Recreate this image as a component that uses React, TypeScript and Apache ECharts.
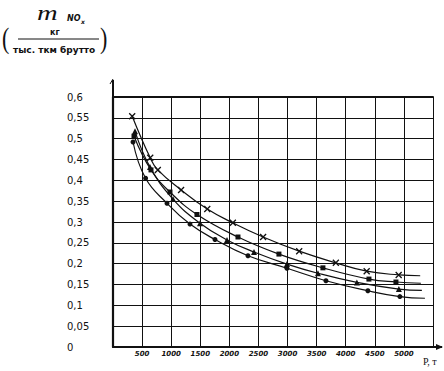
import React, { useEffect, useRef } from "react";
import * as echarts from "echarts";

const yTicks = ["0", "0,05", "0,1", "0,15", "0,2", "0,25", "0,3", "0,35", "0,4", "0,45", "0,5", "0,55", "0,6"];
const xTicks = ["500", "1000", "1500", "2000", "2500", "3000", "3500", "4000", "4500", "5000"];

// [P, m] points; last point of each = line end (no marker)
const crossSeries: number[][] = [
  [330, 0.554], [640, 0.454], [770, 0.425], [1170, 0.377], [1620, 0.331], [2060, 0.298],
  [2580, 0.264], [3200, 0.23], [3830, 0.202], [4360, 0.182], [4910, 0.173], [5280, 0.171],
];
const squareSeries: number[][] = [
  [361, 0.506], [653, 0.425], [979, 0.372], [1443, 0.318], [2148, 0.264], [2852, 0.223],
  [3608, 0.19], [4399, 0.163], [4863, 0.156], [5292, 0.153],
];
const triangleSeries: number[][] = [
  [378, 0.518], [636, 0.432], [1031, 0.355], [1495, 0.297], [1959, 0.257], [2423, 0.228],
  [2990, 0.199], [3522, 0.177], [4192, 0.155], [4914, 0.139], [5309, 0.136],
];
const circleSeries: number[][] = [
  [344, 0.492], [560, 0.405], [928, 0.345], [1323, 0.295], [1753, 0.258], [2320, 0.219],
  [2990, 0.189], [3660, 0.159], [4381, 0.135], [4931, 0.121], [5361, 0.117],
];

const toData = (pts: number[][]) =>
  pts.map((p, i) => (i === pts.length - 1 ? { value: p, symbol: "none" } : { value: p }));

export default function App() {
  const ref = useRef<HTMLDivElement>(null);
  useEffect(() => {
    if (!ref.current) return;
    const chart = echarts.init(ref.current, null, { renderer: "svg" });
    const mkSeries = (name: string, pts: number[][], symbol: string, size: number) => ({
      name,
      type: "line",
      data: toData(pts),
      smooth: 0.45,
      symbol,
      symbolSize: size,
      showSymbol: true,
      lineStyle: { color: "#111", width: 1.2 },
      itemStyle: { color: "#111", borderColor: "#111", borderWidth: symbol.startsWith("path") ? 1.3 : 0 },
    });
    chart.setOption({
      animation: false,
      backgroundColor: "#fff",
      grid: { left: 113, top: 97, right: 11, bottom: 24 },
      xAxis: [
        {
          type: "value",
          min: 0,
          max: 5500,
          interval: 500,
          axisLine: { show: true, lineStyle: { color: "#111", width: 2.2 } },
          axisTick: { show: false },
          splitLine: { show: true, lineStyle: { color: "#111", width: 1 } },
          axisLabel: {
            margin: 3,
            fontSize: 7,
            fontStyle: "italic",
            fontWeight: "bold",
            fontFamily: "DejaVu Sans",
            color: "#111",
            formatter: (v: number) => {
              const s = String(Math.round(v));
              return xTicks.includes(s) ? s : "";
            },
          },
        },
        {
          type: "value",
          position: "top",
          min: 0,
          max: 5500,
          axisLine: { show: true, lineStyle: { color: "#111", width: 2 } },
          axisTick: { show: false },
          axisLabel: { show: false },
          splitLine: { show: false },
        },
      ],
      yAxis: {
        type: "value",
        min: 0,
        max: 0.6,
        interval: 0.05,
        axisLine: { show: true, lineStyle: { color: "#111", width: 2.2 } },
        axisTick: { show: false },
        splitLine: { show: true, lineStyle: { color: "#111", width: 1 } },
        axisLabel: {
          margin: 46,
          align: "left",
          fontSize: 10,
          fontFamily: "DejaVu Sans",
          color: "#111",
          padding: [0, 0, 8, 0],
          formatter: (v: number) => yTicks[Math.round(v / 0.05)] ?? "",
        },
      },
      series: [
        mkSeries("x", crossSeries, "path://M0,0L10,10M10,0L0,10", 6),
        mkSeries("sq", squareSeries, "rect", 5),
        mkSeries("tri", triangleSeries, "triangle", 6),
        mkSeries("ci", circleSeries, "circle", 5),
      ],
      graphic: [
        { type: "line", shape: { x1: 113, y1: 97, x2: 113, y2: 80 }, style: { stroke: "#111", lineWidth: 2 } },
        { type: "line", shape: { x1: 110, y1: 84, x2: 113, y2: 79 }, style: { stroke: "#111", lineWidth: 1 } },
        { type: "line", shape: { x1: 433, y1: 347, x2: 442, y2: 347 }, style: { stroke: "#111", lineWidth: 2 } },
        { type: "polygon", shape: { points: [[443, 347], [436, 344], [436, 350]] }, style: { fill: "#111" } },
        { type: "text", x: 423, y: 356, style: { text: "Р, т", font: "10px 'Liberation Serif'", fill: "#111" } },
        {
          type: "text",
          x: 37,
          y: 2,
          scaleX: 1.3,
          style: { text: "m", font: "italic 22px 'Liberation Serif'", fill: "#111" },
        },
        { type: "text", x: 67, y: 14, style: { text: "NO", font: "italic bold 8px 'DejaVu Sans'", fill: "#111" } },
        { type: "text", x: 81, y: 18, style: { text: "x", font: "italic bold 6px 'DejaVu Sans'", fill: "#111" } },
        { type: "text", x: 50, y: 28, style: { text: "кг", font: "bold 8px 'DejaVu Sans'", fill: "#111" } },
        { type: "line", shape: { x1: 18, y1: 39, x2: 99, y2: 39 }, style: { stroke: "#111", lineWidth: 1 } },
        { type: "text", x: 13, y: 45, style: { text: "тыс. ткм брутто", font: "bold 9px 'DejaVu Sans'", fill: "#111" } },
        { type: "text", x: 2, y: 24, scaleY: 1.3, style: { text: "(", font: "22px 'Liberation Serif'", fill: "#111" } },
        { type: "text", x: 100, y: 24, scaleY: 1.3, style: { text: ")", font: "22px 'Liberation Serif'", fill: "#111" } },
      ],
    });
    return () => chart.dispose();
  }, []);
  return <div ref={ref} style={{ position: "absolute", left: 0, top: 0, width: 444, height: 371 }} />;
}
